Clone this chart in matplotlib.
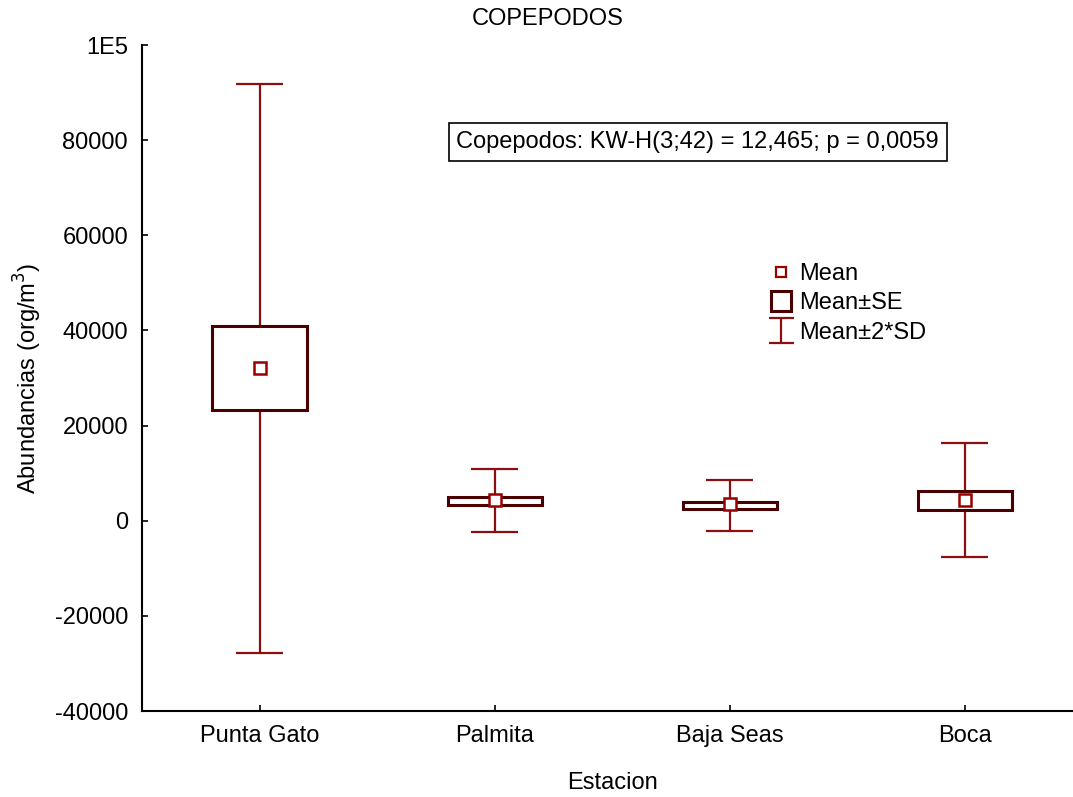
import numpy as np
import matplotlib
matplotlib.use("Agg")
import matplotlib.pyplot as plt
from matplotlib.path import Path
from matplotlib.lines import Line2D

plt.rcParams['font.family'] = ['Liberation Sans', 'DejaVu Sans']

estaciones = ["Punta Gato", "Palmita", "Baja Seas", "Boca"]
media = [32100, 4300, 3500, 4400]
se_bajo = [23250, 3400, 2500, 2350]
se_alto = [40950, 5000, 3850, 6200]
sd_bajo = [-27850, -2450, -2250, -7650]
sd_alto = [91900, 10850, 8650, 16250]

c_whisk = "#8b0f0f"
c_box = "#4a0000"
c_mean = "#990000"
fs = 17

fig = plt.figure(figsize=(10.73, 7.97), dpi=100)
ax = fig.add_axes([0.1323, 0.1079, 0.8765, 0.8356])

x = np.arange(1, len(estaciones) + 1)

# whiskers and caps
ax.vlines(x, sd_bajo, sd_alto, color=c_whisk, lw=1.6, zorder=1)
ax.hlines(sd_alto, x - 0.1, x + 0.1, color=c_whisk, lw=1.6, zorder=1)
ax.hlines(sd_bajo, x - 0.1, x + 0.1, color=c_whisk, lw=1.6, zorder=1)

# SE boxes
ax.bar(x, np.array(se_alto) - np.array(se_bajo), bottom=se_bajo, width=0.4,
       facecolor="white", edgecolor=c_box, linewidth=2.2, zorder=2)

# means
ax.plot(x, media, ls="none", marker="s", ms=8, mfc="white", mec=c_mean,
        mew=1.8, zorder=3)

ax.set_xlim(0.5, 4.5)
ax.set_ylim(-40000, 100000)
ax.set_yticks(np.arange(-40000, 100001, 20000))
ax.set_yticklabels([str(v) for v in range(-40000, 100000, 20000)] + ["1E5"])
ax.set_xticks(x)
ax.set_xticklabels(estaciones)
ax.tick_params(axis="both", direction="in", length=4, width=1.2, labelsize=fs)
ax.tick_params(axis="y", pad=10)
ax.tick_params(axis="x", pad=10)
for s in ["top", "right"]:
    ax.spines[s].set_visible(False)
for s in ["left", "bottom"]:
    ax.spines[s].set_linewidth(1.5)

ax.set_ylabel("Abundancias (org/m$^3$)", fontsize=fs)
ax.yaxis.set_label_coords(-0.121, 0.5)
ax.yaxis.label.set_va("center")
ax.set_xlabel("Estacion", fontsize=fs)
ax.xaxis.set_label_coords(0.5008, -0.108)
ax.xaxis.label.set_va("center")
fig.text(548 / 1073, 1 - 19 / 797, "COPEPODOS", ha="center", va="center", fontsize=fs)

ax.text(0.591, 0.854, "Copepodos: KW-H(3;42) = 12,465; p = 0,0059",
        transform=ax.transAxes, ha="center", va="center", fontsize=fs,
        bbox=dict(boxstyle="square,pad=0.33", facecolor="white",
                  edgecolor="black", linewidth=1.2))

# legend
i_path = Path([(-0.5, 0.5), (0.5, 0.5), (0, 0.5), (0, -0.5), (-0.5, -0.5), (0.5, -0.5)],
              [Path.MOVETO, Path.LINETO, Path.MOVETO, Path.LINETO, Path.MOVETO, Path.LINETO])
handles = [
    Line2D([], [], ls="none", marker="s", ms=7, mfc="white", mec=c_mean, mew=1.6),
    Line2D([], [], ls="none", marker="s", ms=14, mfc="white", mec=c_box, mew=2.2),
    Line2D([], [], ls="none", marker=i_path, ms=18, mfc="none", mec=c_whisk, mew=1.6),
]
ax.legend(handles, ["Mean", "Mean\u00b1SE", "Mean\u00b12*SD"], loc="upper left",
          bbox_to_anchor=(0.644, 0.704), frameon=False, fontsize=fs,
          handlelength=1.0, handletextpad=0.3, labelspacing=0.3)

fig.savefig("out.png", dpi=100)
